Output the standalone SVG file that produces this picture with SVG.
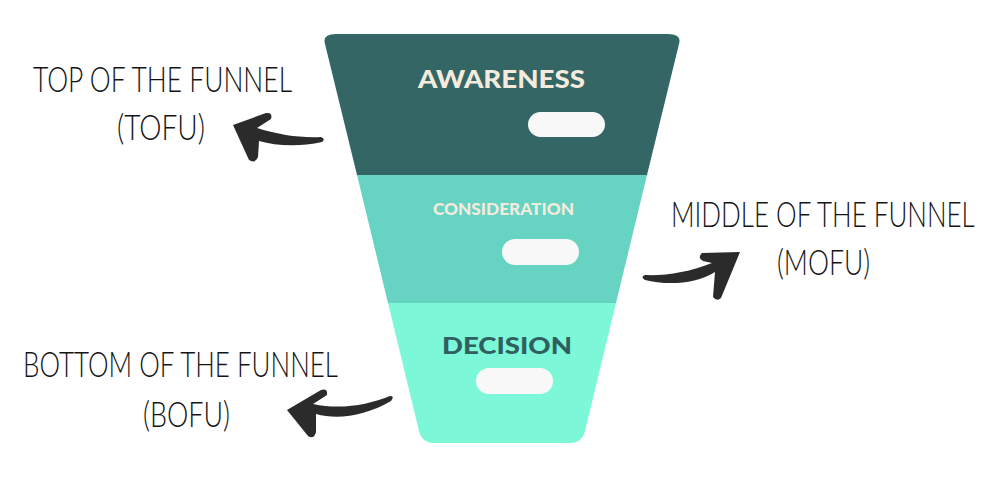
<svg xmlns="http://www.w3.org/2000/svg" width="1000" height="486" viewBox="0 0 1000 486">
  <style>
    .stage-title { font-family: "Lato", "Open Sans", sans-serif; font-weight: 900; }
    .light { fill: #F5EBDD; }
    .dark { fill: #2F5F5E; }
    .pill { fill: #F8F8F8; }
    .hand { font-family: "Lato", "Liberation Sans", sans-serif; font-weight: 300; fill: #141414; font-size: 35px; }
    .arrow { fill: #2B2B2B; }
  </style>
  <rect width="1000" height="486" fill="#FFFFFF"/>

  <g id="stage-awareness">
    <path d="M 336 34 L 668 34 Q 682 34 679 44 L 647 175 L 357 175 L 325 44 Q 322 34 336 34 Z" fill="#346666"/>
    <text class="stage-title light" x="418" y="88" font-size="25" textLength="167" lengthAdjust="spacingAndGlyphs">AWARENESS</text>
    <rect class="pill" x="528" y="112" width="77" height="25" rx="12.5"/>
  </g>

  <g id="stage-consideration">
    <path d="M 357 175 L 647 175 L 616 303 L 388 303 Z" fill="#66D3C3"/>
    <text class="stage-title light" x="433" y="215" font-size="16" textLength="141" lengthAdjust="spacingAndGlyphs">CONSIDERATION</text>
    <rect class="pill" x="502" y="239" width="77" height="26" rx="13"/>
  </g>

  <g id="stage-decision">
    <path d="M 388 303 L 616 303 L 585 431 Q 582 443 570 443 L 434 443 Q 422 443 419 431 Z" fill="#7CF8D9"/>
    <text class="stage-title dark" x="442" y="354" font-size="23" textLength="130" lengthAdjust="spacingAndGlyphs">DECISION</text>
    <rect class="pill" x="476" y="368" width="77" height="26" rx="13"/>
  </g>

  <g id="label-tofu">
    <text class="hand" x="33" y="92" textLength="259" lengthAdjust="spacingAndGlyphs">TOP OF THE FUNNEL</text>
    <text class="hand" x="117" y="140" textLength="88" lengthAdjust="spacingAndGlyphs">(TOFU)</text>
  </g>

  <g id="label-mofu">
    <text class="hand" transform="translate(671 227) scale(0.75 1)" x="0" y="0" textLength="405" lengthAdjust="spacingAndGlyphs">MIDDLE OF THE FUNNEL</text>
    <text class="hand" x="777" y="275" textLength="93" lengthAdjust="spacingAndGlyphs">(MOFU)</text>
  </g>

  <g id="label-bofu">
    <text class="hand" x="23" y="377" textLength="315" lengthAdjust="spacingAndGlyphs">BOTTOM OF THE FUNNEL</text>
    <text class="hand" x="143" y="427" textLength="87" lengthAdjust="spacingAndGlyphs">(BOFU)</text>
  </g>

  <g id="connectors">
    <path class="arrow" d="M 233 125 L 266 113 Q 273 112 271 119 L 257 128 C 280 135 300 138 321 137 Q 326 139 322 142 C 300 147 276 146 259 141 L 258 157 Q 255 164 249 160 Z"/>
    <path class="arrow" d="M 740 252 L 721 298 Q 717 302 713 297 L 715 272 C 695 285 665 285 645 280 Q 640 277 645 275 C 665 276 690 272 712 263 L 703 261 Q 697 258 702 253 Z"/>
    <path class="arrow" d="M 287 410 L 321 390 Q 328 388 327 395 L 313 404 C 340 410 368 405 390 396 Q 395 396 391 401 C 365 416 338 420 316 414 L 316 432 Q 314 440 308 436 Z"/>
  </g>
</svg>
